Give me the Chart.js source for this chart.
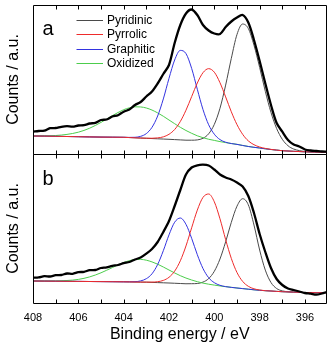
<!DOCTYPE html>
<html>
<head>
<meta charset="utf-8">
<script src="https://cdn.jsdelivr.net/npm/chart.js@4.4.1/dist/chart.umd.min.js"></script>
<style>
html,body{margin:0;padding:0;background:#fff;}
canvas{display:block;}
</style>
</head>
<body>
<canvas id="c" width="329" height="344"></canvas>
<script>
// ---- data ----
const seriesNames = ['Pyridinic', 'Pyrrolic', 'Graphitic', 'Oxidized'];
const xTickLabels = [408, 406, 404, 402, 400, 398, 396];

// energy grid of the fitted components (eV)
const energyFit = [408, 407.5, 407, 406.5, 406, 405.5, 405, 404.5,
  404, 403.75, 403.5, 403.25, 403, 402.75, 402.5, 402.25, 402, 401.75, 401.5, 401.25,
  401, 400.75, 400.5, 400.25, 400, 399.75, 399.5, 399.25, 399, 398.75, 398.5, 398.25,
  398, 397.75, 397.5, 397.25, 397, 396.75, 396.5, 396, 395.5, 395.05];

// energy grid of the measured spectra (eV)
const energyRaw = [408, 407.75, 407.5, 407.25, 407, 406.75, 406.5, 406.25, 406, 405.75,
  405.5, 405.25, 405, 404.75, 404.5, 404.25, 404, 403.75, 403.5, 403.25, 403, 402.75,
  402.5, 402.25, 402, 401.75, 401.5, 401.25, 401, 400.75, 400.5, 400.25, 400, 399.75,
  399.5, 399.25, 399, 398.75, 398.5, 398.25, 398, 397.75, 397.5, 397.25, 397, 396.75,
  396.5, 396.25, 396, 395.75, 395.5, 395.25, 395.05];

// panel a
const measuredA = [22.3, 23.0, 23.3, 25.8, 26.0, 27.2, 27.8, 27.3, 28.5, 28.8,
  30.5, 31.2, 34.0, 34.5, 37.5, 38.8, 42.3, 44.5, 49.0, 52.0, 57.5, 62.5,
  70.5, 80.0, 89.0, 111.0, 129.0, 140.5, 144.5, 139.0, 129.0, 123.5, 120.5, 120.0,
  127.0, 132.5, 136.5, 139.0, 131.5, 114.0, 93.0, 70.5, 49.0, 31.0, 22.3, 14.0,
  9.5, 7.5, 4.5, 3.5, 3.0, 2.5, 2.3];
const pyridinicA = [18.0, 17.9, 17.7, 17.5, 17.3, 17.1, 16.9, 16.8,
  16.7, 16.45, 16.2, 15.95, 15.7, 15.45, 15.2, 14.95, 14.7, 14.4, 14.1, 13.8,
  13.8, 14.1, 15.7, 20.2, 29.6, 45.7, 68.9, 95.6, 119.5, 130.0, 125.5, 108.8,
  86.6, 62.7, 41.6, 25.5, 14.7, 8.3, 5.0, 2.5, 1.9, 1.8];
const pyrrolicA = [18.0, 17.9, 17.7, 17.5, 17.3, 17.1, 16.9, 16.8,
  16.7, 16.45, 16.2, 15.95, 15.8, 15.75, 16.1, 17.15, 19.7, 24.5, 32.5, 43.8,
  57.4, 71.0, 81.3, 85.35, 81.8, 71.3, 57.1, 42.25, 29.4, 19.7, 13.1, 9.3,
  7.0, 5.6, 4.6, 3.9, 3.3, 3.0, 2.7, 2.2, 1.9, 1.8];
const graphiticA = [18.0, 17.9, 17.7, 17.5, 17.3, 17.1, 16.9, 16.8,
  16.7, 16.6, 16.7, 17.65, 20.4, 26.65, 38.0, 55.05, 75.6, 94.0, 103.6, 100.4,
  85.6, 64.7, 44.5, 29.25, 19.8, 14.4, 11.8, 10.45, 9.6, 8.5, 7.5, 6.7,
  6.0, 5.2, 4.5, 3.9, 3.3, 3.0, 2.7, 2.2, 1.9, 1.8];
const oxidizedA = [18.1, 18.2, 18.5, 19.6, 21.8, 25.8, 31.6, 38.3,
  44.3, 46.15, 47.2, 47.05, 46.0, 43.95, 41.1, 37.75, 34.0, 30.3, 26.7, 23.5,
  20.7, 18.2, 16.3, 14.75, 13.6, 12.4, 11.4, 10.5, 9.7, 8.6, 7.55, 6.7,
  6.0, 5.2, 4.5, 3.9, 3.3, 3.0, 2.7, 2.2, 1.9, 1.8];

// panel b
const measuredB = [25.3, 25.6, 26.8, 26.5, 27.8, 28.0, 29.5, 29.2, 30.8, 31.2,
  32.8, 33.0, 35.0, 35.6, 37.2, 38.0, 39.8, 41.0, 43.5, 45.5, 49.3, 54.0,
  61.0, 71.0, 82.0, 97.0, 113.0, 128.5, 135.5, 137.7, 138.3, 137.5, 133.5, 128.5,
  125.5, 123.5, 120.5, 116.5, 107.0, 90.0, 69.0, 51.0, 35.0, 24.0, 18.0, 14.5,
  13.0, 11.5, 10.0, 9.3, 8.3, 9.5, 11.0];
const pyridinicB = [22.0, 21.9, 21.8, 21.7, 21.6, 21.5, 21.4, 21.3,
  21.2, 21.1, 21.0, 20.9, 20.8, 20.6, 20.4, 20.2, 20.0, 19.75, 19.5, 19.25,
  19.3, 19.5, 20.9, 24.4, 31.7, 44.0, 61.2, 80.6, 96.8, 104.3, 98.2, 78.0,
  53.0, 32.9, 20.5, 14.5, 12.1, 11.3, 10.9, 10.5, 10.3, 10.2];
const pyrrolicB = [22.0, 21.9, 21.8, 21.7, 21.6, 21.5, 21.4, 21.3,
  21.2, 21.1, 21.0, 20.9, 20.9, 20.9, 21.3, 22.6, 25.7, 31.85, 42.2, 57.05,
  75.2, 92.9, 105.6, 109.0, 101.2, 84.2, 63.4, 44.6, 30.5, 21.6, 16.7, 14.2,
  13.0, 12.3, 12.0, 11.6, 11.3, 11.1, 10.9, 10.5, 10.3, 10.2];
const graphiticB = [22.0, 21.9, 21.8, 21.7, 21.6, 21.5, 21.4, 21.3,
  21.2, 21.2, 21.3, 22.1, 24.3, 29.2, 38.5, 52.3, 68.1, 80.75, 85.0, 78.65,
  64.7, 48.3, 34.5, 25.3, 20.3, 17.7, 16.4, 15.6, 15.0, 14.4, 13.8, 13.2,
  12.7, 12.3, 12.0, 11.6, 11.3, 11.1, 10.9, 10.5, 10.3, 10.2];
const oxidizedB = [22.0, 22.0, 22.05, 22.5, 23.6, 26.1, 30.2, 35.4,
  40.5, 42.3, 43.4, 43.6, 42.8, 41.1, 38.8, 36.0, 33.0, 30.05, 27.3, 24.95,
  23.0, 21.3, 19.9, 18.8, 17.9, 17.05, 16.3, 15.7, 15.0, 14.4, 13.8, 13.2,
  12.7, 12.3, 12.0, 11.6, 11.3, 11.1, 10.9, 10.5, 10.3, 10.2];

// ---- styling ----
const FONT = "'Liberation Sans', Arial, Helvetica, sans-serif";
const colors = {
  Pyridinic: '#4a4a4a',
  Pyrrolic: '#ee2b2b',
  Graphitic: '#3333e0',
  Oxidized: '#4ccd4c'
};

function pts(xs, ys) { return xs.map((x, i) => ({ x: x, y: ys[i] })); }

function compDataset(name, values, axis, order) {
  return {
    label: name, data: pts(energyFit, values), yAxisID: axis,
    borderColor: colors[name], borderWidth: 1, pointRadius: 0,
    cubicInterpolationMode: 'monotone', fill: false, order: order
  };
}
function rawDataset(values, axis) {
  return {
    label: 'Measured', data: pts(energyRaw, values), yAxisID: axis,
    borderColor: '#000', borderWidth: 2.3, pointRadius: 0,
    tension: 0.3, fill: false, order: 0
  };
}

const datasets = [
  rawDataset(measuredA, 'yA'),
  compDataset('Pyrrolic', pyrrolicA, 'yA', 1),
  compDataset('Graphitic', graphiticA, 'yA', 2),
  compDataset('Oxidized', oxidizedA, 'yA', 3),
  compDataset('Pyridinic', pyridinicA, 'yA', 4),
  rawDataset(measuredB, 'yB'),
  compDataset('Pyrrolic', pyrrolicB, 'yB', 1),
  compDataset('Graphitic', graphiticB, 'yB', 2),
  compDataset('Oxidized', oxidizedB, 'yB', 3),
  compDataset('Pyridinic', pyridinicB, 'yB', 4)
];

const decor = {
  id: 'decor',
  afterDatasetsDraw(chart) {
    const { ctx, scales } = chart;
    const xs = scales.x;
    const panels = [scales.yA, scales.yB];
    ctx.save();
    ctx.strokeStyle = '#000';
    ctx.lineWidth = 1;
    const L = Math.round(xs.left) + 0.5;
    const R = Math.round(xs.right) - 0.5;
    panels.forEach(ys => {
      const T = Math.round(ys.top) + 0.5;
      const B = Math.round(ys.bottom) + 0.5;
      ctx.beginPath();
      ctx.rect(L, T, R - L, B - T);
      for (let e = 396; e <= 407; e++) {
        const px = Math.round(xs.getPixelForValue(e)) + 0.5;
        ctx.moveTo(px, B); ctx.lineTo(px, B - 4);
        ctx.moveTo(px, T); ctx.lineTo(px, T + 4);
      }
      ctx.stroke();
    });
    // panel letters
    ctx.fillStyle = '#000';
    ctx.font = '20px ' + FONT;
    ctx.textAlign = 'left';
    ctx.textBaseline = 'alphabetic';
    ctx.fillText('a', xs.left + 9.5, scales.yA.top + 30);
    ctx.fillText('b', xs.left + 9.5, scales.yB.top + 31);
    // legend
    ctx.font = '12px ' + FONT;
    ctx.textBaseline = 'middle';
    seriesNames.forEach((n, i) => {
      const y = Math.round(scales.yA.top + 15 + i * 14.4) + 0.5;
      ctx.strokeStyle = colors[n];
      ctx.lineWidth = 1;
      ctx.beginPath();
      ctx.moveTo(xs.left + 43.5, y);
      ctx.lineTo(xs.left + 70, y);
      ctx.stroke();
      ctx.fillStyle = '#000';
      ctx.fillText(n, xs.left + 74, y + 0.5);
    });
    ctx.restore();
  }
};

function yAxis() {
  return {
    type: 'linear', position: 'left', stack: 'panels', stackWeight: 1,
    min: 0, max: 149,
    ticks: { display: false },
    grid: { display: false, drawTicks: false },
    border: { display: false },
    title: { display: true, text: 'Counts / a.u.', color: '#000',
             font: { family: FONT, size: 16 }, padding: { top: 3.5, bottom: 0 } },
    afterFit(s) { s.width = 33; }
  };
}

new Chart(document.getElementById('c'), {
  type: 'line',
  data: { datasets: datasets },
  options: {
    responsive: false,
    animation: false,
    devicePixelRatio: 1,
    layout: { padding: { top: 5, right: 2.5, left: 0, bottom: 0 } },
    plugins: { legend: { display: false }, tooltip: { enabled: false } },
    scales: {
      x: {
        type: 'linear', reverse: true, min: 395.05, max: 408,
        afterBuildTicks(s) { s.ticks = xTickLabels.map(v => ({ value: v })); },
        ticks: { color: '#000', font: { family: FONT, size: 11 }, padding: 8,
                 maxRotation: 0, autoSkip: false, callback: v => String(v) },
        grid: { display: false, drawTicks: false },
        border: { display: false },
        title: { display: true, text: 'Binding energy / eV', color: '#000',
                 font: { family: FONT, size: 16 }, padding: { top: 0, bottom: 0 } },
        afterFit(s) { s.height = 41; }
      },
      yB: yAxis(),
      yA: yAxis()
    }
  },
  plugins: [decor]
});
</script>
</body>
</html>
